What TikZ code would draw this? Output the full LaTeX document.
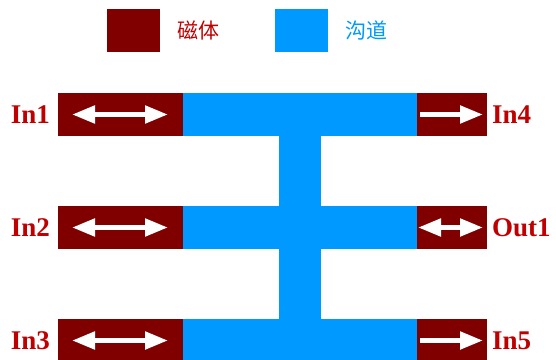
\documentclass[tikz,border=0pt]{standalone}
\usepackage{fontspec}
\setmainfont{Liberation Serif}
\newfontfamily\cjk{Noto Sans CJK SC}
\usepackage{xcolor}
\definecolor{MGmaroon}{HTML}{800000}
\definecolor{MGblue}{HTML}{0099FF}
\definecolor{MGred}{HTML}{C00000}
\usetikzlibrary{positioning,arrows.meta}

\begin{document}
\begin{tikzpicture}[
  x=1pt, y=1pt,
  node distance=70pt and 0pt,
  mag/.style={fill=MGmaroon, inner sep=0pt, outer sep=0pt, minimum height=43pt},
  chan/.style={fill=MGblue, inner sep=0pt, outer sep=0pt, minimum height=43pt, minimum width=234pt},
  port/.style={font=\fontsize{27}{30}\selectfont\bfseries, text=MGred, inner sep=0pt},
  legtxt/.style={font=\fontsize{21}{24}\selectfont\cjk, inner sep=0pt},
  tip/.style={white, line width=5pt},
  both/.style={tip, {Triangle[length=23pt,width=17pt]}-{Triangle[length=23pt,width=17pt]}},
  one/.style={tip, -{Triangle[length=23pt,width=17pt]}}
]
\useasboundingbox (0,0) rectangle (556,359);

% legend
\node[mag, minimum width=53pt] (kmag) at (133,328.5) {};
\node[legtxt, text=MGred, right=18pt of kmag] (tmag) {磁体};
\node[chan, minimum width=53pt] (kchan) at (301.5,328.5) {};
\node[legtxt, text=MGblue, right=17pt of kchan] (tchan) {沟道};

% left magnets
\node[mag, minimum width=125pt] (m1) at (120.5,244.5) {};
\node[mag, minimum width=125pt, below=of m1] (m2) {};
\node[mag, minimum width=125pt, below=of m2] (m3) {};

% channel
\node[chan, right=of m1] (c1) {};
\node[chan, right=of m2] (c2) {};
\node[chan, right=of m3] (c3) {};
\fill[MGblue] ([xshift=-21pt]c1.south) rectangle ([xshift=21pt]c3.north);

% right magnets
\node[mag, minimum width=70pt, right=of c1] (r1) {};
\node[mag, minimum width=70pt, right=of c2] (r2) {};
\node[mag, minimum width=70pt, right=of c3] (r3) {};

\node[port, left=8pt of m1] (in1) {In1};
\node[port, left=8pt of m2] (in2) {In2};
\node[port, left=8pt of m3] (in3) {In3};
\node[port, right=5pt of r1] (in4) {In4};
\node[port, right=5pt of r2] (out1) {Out1};
\node[port, right=5pt of r3] (in5) {In5};

\draw[both] ([xshift=14pt]m1.west) -- ([xshift=-15pt]m1.east);
\draw[both] ([xshift=14pt]m2.west) -- ([xshift=-15pt]m2.east);
\draw[both] ([xshift=14pt]m3.west) -- ([xshift=-15pt]m3.east);
\draw[one] ([xshift=3pt]r1.west) -- ([xshift=-4pt]r1.east);
\draw[both] ([xshift=1pt]r2.west) -- ([xshift=-4pt]r2.east);
\draw[one] ([xshift=3pt]r3.west) -- ([xshift=-4pt]r3.east);
\end{tikzpicture}
\end{document}
